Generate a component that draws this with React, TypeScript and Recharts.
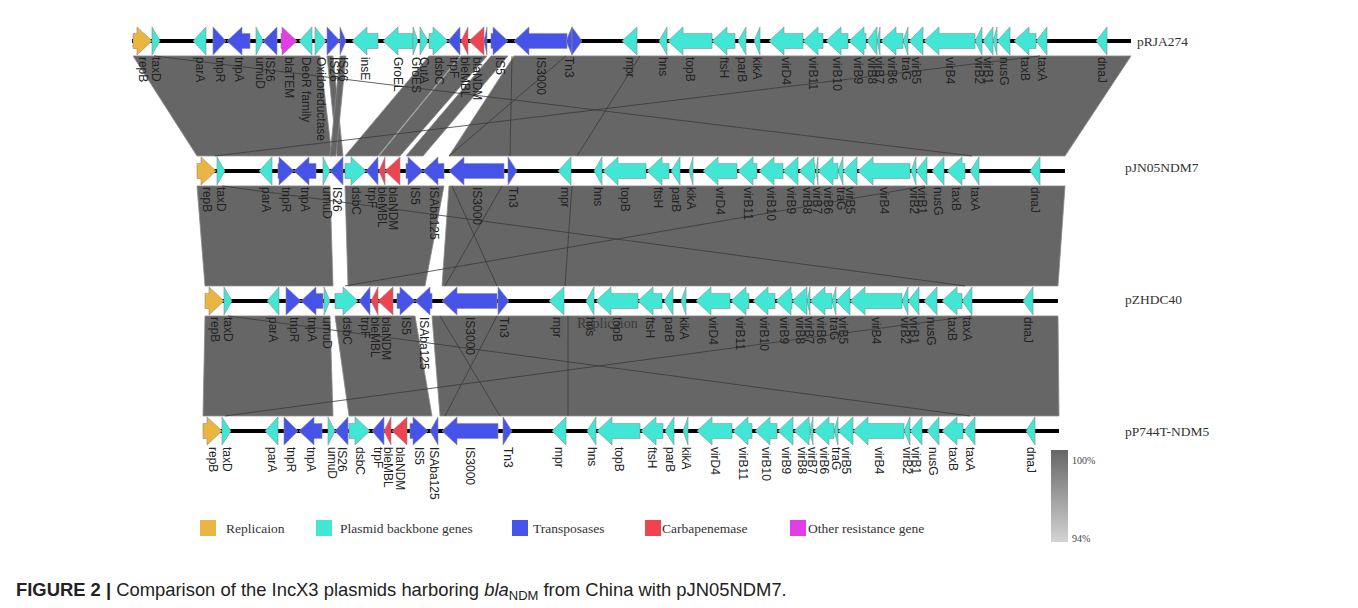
import React from "react"
import { ComposedChart, XAxis, YAxis, ReferenceArea } from "recharts"

// gene = [label, start (kb), end (kb), strand, kind]
type Gene = [string, number, number, number, string]
// link = [upper track, top start, top end, bottom start, bottom end]
type Link = [number, number, number, number, number]
// cross = [upper track, top x, bottom x]
type Cross = [number, number, number]

const trackNames = ["pRJA274", "pJN05NDM7", "pZHDC40", "pP744T-NDM5"]
const backbones: [number, number][] = [
  [6.6, 56.55],
  [9.85, 53.25],
  [10.25, 52.9],
  [10.15, 52.95],
]

const pRJA274: Gene[] = [
  ["repB", 6.65, 7.6, 1, "rep"], ["taxD", 7.6, 8.0, 1, "bb"], ["parA", 9.65, 10.3, -1, "bb"],
  ["tnpR", 10.65, 11.3, 1, "tp"], ["tnpA", 11.35, 12.5, -1, "tp"], ["umuD", 12.8, 13.15, 1, "bb"],
  ["IS26", 13.15, 13.85, -1, "tp"], ["blaTEM", 14.05, 14.85, 1, "res"], ["DeoR family", 14.95, 15.6, -1, "bb"],
  ["Oxidoreductase", 15.75, 16.3, 1, "bb"], ["IS26", 16.35, 17.0, 1, "tp"], ["IS26", 17.0, 17.3, 1, "tp"],
  ["insE", 17.6, 18.9, -1, "bb"], ["GroEL", 19.15, 20.65, -1, "bb"], ["GroES", 20.65, 20.9, 1, "bb"],
  ["CutA", 21.0, 21.4, 1, "bb"], ["dsbC", 21.45, 22.4, 1, "bb"], ["trpF", 22.4, 23.0, -1, "tp"],
  ["bleMBL", 23.05, 23.4, -1, "carb"], ["blaNDM", 23.45, 24.2, -1, "carb"], ["", 24.2, 24.35, -1, "tp"],
  ["IS5", 24.55, 25.4, 1, "tp"], ["IS3000", 25.7, 28.35, -1, "tp"], ["Tn3", 28.3, 28.6, -1, "tp"],
  ["", 28.6, 29.1, 1, "tp"], ["mpr", 31.1, 31.85, -1, "bb"], ["hns", 32.95, 33.35, -1, "bb"],
  ["topB", 33.4, 35.6, -1, "bb"], ["ftsH", 35.6, 36.75, -1, "bb"], ["parB", 36.9, 37.3, -1, "bb"],
  ["kikA", 37.7, 38.0, -1, "bb"], ["virD4", 38.45, 40.15, -1, "bb"], ["virB11", 40.15, 41.15, -1, "bb"],
  ["virB10", 41.3, 42.4, -1, "bb"], ["virB9", 42.45, 43.3, -1, "bb"], ["virB8", 43.35, 43.85, -1, "bb"],
  ["virB7", 43.85, 44.0, -1, "bb"], ["virB6", 44.05, 45.15, -1, "bb"], ["traG", 45.15, 45.4, -1, "bb"],
  ["virB5", 45.45, 46.15, -1, "bb"], ["virB4", 46.2, 48.75, -1, "bb"], ["virB2", 48.75, 49.1, -1, "bb"],
  ["virB1", 49.15, 49.65, -1, "bb"], ["", 49.65, 49.85, -1, "bb"], ["nusG", 49.85, 50.5, -1, "bb"],
  ["taxB", 50.7, 51.8, -1, "bb"], ["taxA", 51.8, 52.35, -1, "bb"], ["dnaJ", 54.8, 55.35, -1, "bb"],
]

const pJN05NDM7: Gene[] = [
  ["repB", 9.85, 10.8, 1, "rep"], ["taxD", 10.85, 11.25, 1, "bb"], ["parA", 12.95, 13.6, -1, "bb"],
  ["tnpR", 13.9, 14.7, 1, "tp"], ["tnpA", 14.7, 15.8, -1, "tp"], ["umuD", 16.15, 16.5, 1, "bb"],
  ["IS26", 16.5, 17.15, -1, "tp"], ["dsbC", 17.25, 18.3, 1, "bb"], ["trpF", 18.3, 18.9, -1, "tp"],
  ["bleMBL", 18.95, 19.25, -1, "carb"], ["blaNDM", 19.25, 20.0, -1, "carb"], ["IS5", 20.3, 21.15, 1, "tp"],
  ["ISAba125", 21.15, 22.2, -1, "tp"], ["IS3000", 22.45, 25.2, -1, "tp"], ["Tn3", 25.4, 25.85, 1, "tp"],
  ["mpr", 27.9, 28.55, -1, "bb"], ["hns", 29.7, 30.1, -1, "bb"], ["topB", 30.15, 32.3, -1, "bb"],
  ["ftsH", 32.35, 33.45, -1, "bb"], ["parB", 33.55, 34.0, -1, "bb"], ["kikA", 34.45, 34.65, -1, "bb"],
  ["virD4", 35.15, 36.85, -1, "bb"], ["virB11", 36.9, 37.85, -1, "bb"], ["virB10", 37.95, 39.15, -1, "bb"],
  ["virB9", 39.15, 39.9, -1, "bb"], ["virB8", 39.95, 40.75, -1, "bb"], ["virB7", 40.8, 40.9, -1, "bb"],
  ["virB6", 40.9, 41.9, -1, "bb"], ["traG", 41.9, 42.15, -1, "bb"], ["virB5", 42.15, 42.85, -1, "bb"],
  ["virB4", 42.9, 45.5, -1, "bb"], ["virB2", 45.55, 45.8, -1, "bb"], ["virB1", 45.8, 46.35, -1, "bb"],
  ["nusG", 46.6, 47.2, -1, "bb"], ["taxB", 47.35, 48.25, -1, "bb"], ["taxA", 48.5, 48.95, -1, "bb"],
  ["dnaJ", 51.5, 52.0, -1, "bb"],
]

const pZHDC40: Gene[] = [
  ["repB", 10.25, 11.2, 1, "rep"], ["taxD", 11.2, 11.6, 1, "bb"], ["parA", 13.35, 13.95, -1, "bb"],
  ["tnpR", 14.3, 15.05, 1, "tp"], ["tnpA", 15.05, 16.15, -1, "tp"], ["umuD", 16.2, 16.5, 1, "bb"],
  ["dsbC", 16.75, 17.9, 1, "bb"], ["trpF", 17.95, 18.5, -1, "tp"], ["bleMBL", 18.55, 18.9, -1, "carb"],
  ["blaNDM", 18.9, 19.65, -1, "carb"], ["IS5", 19.85, 20.75, 1, "tp"], ["ISAba125", 20.75, 21.6, -1, "tp"],
  ["IS3000", 22.1, 24.85, -1, "tp"], ["Tn3", 24.9, 25.45, 1, "tp"], ["mpr", 27.45, 28.2, -1, "bb"],
  ["hns", 29.3, 29.7, -1, "bb"], ["topB", 29.8, 31.9, -1, "bb"], ["ftsH", 31.9, 33.1, -1, "bb"],
  ["parB", 33.2, 33.65, -1, "bb"], ["kikA", 34.05, 34.3, -1, "bb"], ["virD4", 34.8, 36.5, -1, "bb"],
  ["virB11", 36.55, 37.45, -1, "bb"], ["virB10", 37.65, 38.75, -1, "bb"], ["virB9", 38.8, 39.6, -1, "bb"],
  ["virB8", 39.6, 40.35, -1, "bb"], ["virB7", 40.35, 40.5, -1, "bb"], ["virB6", 40.5, 41.6, -1, "bb"],
  ["traG", 41.6, 41.8, -1, "bb"], ["virB5", 41.8, 42.5, -1, "bb"], ["virB4", 42.5, 45.1, -1, "bb"],
  ["virB2", 45.1, 45.4, -1, "bb"], ["virB1", 45.4, 45.95, -1, "bb"], ["nusG", 46.2, 46.85, -1, "bb"],
  ["taxB", 47.1, 48.1, -1, "bb"], ["taxA", 48.1, 48.6, -1, "bb"], ["dnaJ", 51.15, 51.65, -1, "bb"],
]

const pP744T: Gene[] = [
  ["repB", 10.15, 11.1, 1, "rep"], ["taxD", 11.1, 11.55, 1, "bb"], ["parA", 13.25, 13.9, -1, "bb"],
  ["tnpR", 14.2, 14.9, 1, "tp"], ["tnpA", 14.95, 16.1, -1, "tp"], ["umuD", 16.4, 16.75, 1, "bb"],
  ["IS26", 16.75, 17.4, -1, "tp"], ["dsbC", 17.45, 18.5, 1, "bb"], ["trpF", 18.6, 19.2, -1, "tp"],
  ["bleMBL", 19.2, 19.55, -1, "carb"], ["blaNDM", 19.6, 20.35, -1, "carb"], ["IS5", 20.5, 21.4, 1, "tp"],
  ["ISAba125", 21.5, 21.9, -1, "tp"], ["IS3000", 22.1, 24.9, -1, "tp"], ["Tn3", 25.15, 25.6, 1, "tp"],
  ["mpr", 27.6, 28.3, -1, "bb"], ["hns", 29.35, 29.8, -1, "bb"], ["topB", 29.85, 32.0, -1, "bb"],
  ["ftsH", 32.05, 33.15, -1, "bb"], ["parB", 33.25, 33.7, -1, "bb"], ["kikA", 34.15, 34.4, -1, "bb"],
  ["virD4", 34.85, 36.6, -1, "bb"], ["virB11", 36.65, 37.6, -1, "bb"], ["virB10", 37.75, 38.85, -1, "bb"],
  ["virB9", 38.9, 39.65, -1, "bb"], ["virB8", 39.7, 40.5, -1, "bb"], ["virB7", 40.5, 40.65, -1, "bb"],
  ["virB6", 40.7, 41.7, -1, "bb"], ["traG", 41.7, 41.9, -1, "bb"], ["virB5", 41.9, 42.65, -1, "bb"],
  ["virB4", 42.65, 45.2, -1, "bb"], ["virB2", 45.2, 45.5, -1, "bb"], ["virB1", 45.5, 46.1, -1, "bb"],
  ["nusG", 46.35, 46.95, -1, "bb"], ["taxB", 47.1, 48.15, -1, "bb"], ["taxA", 48.2, 48.75, -1, "bb"],
  ["dnaJ", 51.3, 51.75, -1, "bb"],
]

const tracks = [pRJA274, pJN05NDM7, pZHDC40, pP744T]

const links: Link[] = [
  [0, 6.65, 16.0, 9.85, 16.6],
  [0, 16.35, 16.65, 16.85, 17.15],
  [0, 17.0, 17.3, 16.5, 16.8],
  [0, 21.45, 23.0, 17.25, 18.9],
  [0, 23.05, 24.35, 18.95, 20.0],
  [0, 24.55, 25.4, 20.3, 21.15],
  [0, 25.7, 56.55, 22.45, 53.25],
  [1, 9.85, 16.5, 10.25, 16.65],
  [1, 17.25, 22.2, 17.4, 21.25],
  [1, 22.45, 53.25, 22.1, 52.9],
  [2, 10.25, 16.5, 10.15, 16.65],
  [2, 16.75, 20.75, 17.45, 21.6],
  [2, 21.6, 52.9, 22.0, 52.95],
]

const crossLines: Cross[] = [
  [0, 7.7, 48.6], [0, 52.0, 10.75], [0, 25.6, 25.5], [0, 28.3, 22.45], [0, 32.0, 28.85],
  [1, 11.1, 48.25], [1, 46.25, 17.25], [1, 22.6, 24.85], [1, 25.1, 22.25], [1, 28.6, 28.25],
  [2, 11.4, 48.5], [2, 48.6, 11.25], [2, 22.0, 25.0], [2, 24.85, 22.25], [2, 28.4, 28.4],
]

const legendItems = [
  ["Replicaion", "rep"],
  ["Plasmid backbone genes", "bb"],
  ["Transposases", "tp"],
  ["Carbapenemase", "carb"],
  ["Other resistance gene", "res"],
]

const COLORS: Record<string, string> = {
  rep: "#EBB640",
  bb: "#42E6D5",
  tp: "#4653E8",
  carb: "#EE4452",
  res: "#E03FE6",
}

const PX = 130 // px per track unit on the y axis
const GENE_HALF = 14 / PX
const GAP = 15 / PX
const LINE_HALF = 2 / PX
const SANS = "'Liberation Sans', Arial, sans-serif"
const SERIF = "'Liberation Serif', 'Times New Roman', serif"

const geneShape = (g: Gene) => (p: any) => {
  const { x, y, width: w, height: h } = p
  const [name, , , strand, kind] = g
  const cy = y + h / 2
  const head = Math.min(15, w)
  const bh = h * 0.27
  let pts: number[][]
  if (strand > 0) {
    const hx = x + w - head
    pts = head >= w
      ? [[x, y], [x + w, cy], [x, y + h]]
      : [[x, cy - bh], [hx, cy - bh], [hx, y], [x + w, cy], [hx, y + h], [hx, cy + bh], [x, cy + bh]]
  } else {
    const hx = x + head
    pts = head >= w
      ? [[x + w, y], [x, cy], [x + w, y + h]]
      : [[x + w, cy - bh], [hx, cy - bh], [hx, y], [x, cy], [hx, y + h], [hx, cy + bh], [x + w, cy + bh]]
  }
  const lx = x + w / 2
  const ly = y + h + 2
  return (
    <g>
      <polygon points={pts.map((q) => q.join(",")).join(" ")} fill={COLORS[kind]} stroke="#8c8c8c" strokeWidth={0.6} />
      {name && (
        <text x={lx} y={ly} transform={`rotate(90 ${lx} ${ly})`} fontSize={12} fontFamily={SANS}
          fill="#222" dominantBaseline="central">
          {name}
        </text>
      )}
    </g>
  )
}

const linkShape = (l: Link) => (p: any) => {
  const { x, y, width, height } = p
  const lo = Math.min(l[1], l[3])
  const hi = Math.max(l[2], l[4])
  const px = (v: number) => x + ((v - lo) / (hi - lo)) * width
  const pts = [[px(l[1]), y], [px(l[2]), y], [px(l[4]), y + height], [px(l[3]), y + height]]
  return <polygon points={pts.map((q) => q.join(",")).join(" ")} fill="#666666" stroke="#8a8a8a" strokeWidth={0.8} />
}

const crossShape = (c: Cross) => (p: any) => {
  const { x, y, width, height } = p
  const lo = Math.min(c[1], c[2]) - 0.02
  const hi = Math.max(c[1], c[2]) + 0.02
  const px = (v: number) => x + ((v - lo) / (hi - lo)) * width
  return <line x1={px(c[1])} y1={y} x2={px(c[2])} y2={y + height} stroke="#3a3a3a" strokeWidth={0.8} />
}

const Overlay = () => {
  const legendX = [200, 316, 512, 645, 790]
  const legendTextX = [226, 340, 533, 662, 808]
  const nameX = [1137, 1125, 1125, 1125]
  const nameY = [41, 167, 299, 431]
  return (
    <svg width={1358} height={608} style={{ position: "absolute", left: 0, top: 0, pointerEvents: "none" }}>
      <defs>
        <linearGradient id="ident" x1="0" y1="0" x2="0" y2="1">
          <stop offset="0%" stopColor="#666666" />
          <stop offset="100%" stopColor="#d4d4d4" />
        </linearGradient>
      </defs>
      {trackNames.map((n, i) => (
        <text key={n} x={nameX[i]} y={nameY[i]} fontFamily={SERIF} fontSize={13.5} fill="#333" dominantBaseline="central">
          {n}
        </text>
      ))}
      <text x={577} y={323} fontFamily={SERIF} fontSize={14} fill="#3a3a3a" dominantBaseline="central">Replicaion</text>
      {legendItems.map(([label, kind], i) => (
        <g key={label}>
          <rect x={legendX[i]} y={520} width={16} height={16} fill={COLORS[kind]} />
          <text x={legendTextX[i]} y={528} fontFamily={SERIF} fontSize={13.5} fill="#333" dominantBaseline="central">
            {label}
          </text>
        </g>
      ))}
      <rect x={1051} y={450} width={17} height={92} fill="url(#ident)" />
      <text x={1072} y={460} fontFamily={SERIF} fontSize={10} fill="#444" dominantBaseline="central">100%</text>
      <text x={1072} y={538} fontFamily={SERIF} fontSize={10} fill="#444" dominantBaseline="central">94%</text>
      <text x={16} y={596} fontFamily={SANS} fontSize={18.4} fill="#222">
        <tspan fontWeight="bold">FIGURE 2 |</tspan>
        <tspan> Comparison of the IncX3 plasmids harboring </tspan>
        <tspan fontStyle="italic">bla</tspan>
        <tspan fontSize={13} dy={4}>NDM</tspan>
        <tspan dy={-4}> from China with pJN05NDM7.</tspan>
      </text>
    </svg>
  )
}

export default function App() {
  return (
    <div style={{ position: "absolute", left: 0, top: 0, width: 1358, height: 608, background: "#fff" }}>
      <ComposedChart width={1358} height={575} margin={{ top: 0, right: 0, bottom: 0, left: 0 }}>
        <XAxis type="number" dataKey="x" domain={[0, 67.9]} hide allowDataOverflow />
        <YAxis type="number" dataKey="y" domain={[-0.315, 4.108]} reversed hide allowDataOverflow />
        {links.map((l, i) => (
          <ReferenceArea key={`link-${i}`} x1={Math.min(l[1], l[3])} x2={Math.max(l[2], l[4])}
            y1={l[0] + GAP} y2={l[0] + 1 - GAP} ifOverflow="visible" shape={linkShape(l)} />
        ))}
        {crossLines.map((c, i) => (
          <ReferenceArea key={`cross-${i}`} x1={Math.min(c[1], c[2]) - 0.02} x2={Math.max(c[1], c[2]) + 0.02}
            y1={c[0] + GAP} y2={c[0] + 1 - GAP} ifOverflow="visible" shape={crossShape(c)} />
        ))}
        {backbones.map((b, i) => (
          <ReferenceArea key={`bb-${i}`} x1={b[0]} x2={b[1]} y1={i - LINE_HALF} y2={i + LINE_HALF}
            ifOverflow="visible" fill="#000" fillOpacity={1} stroke="none" />
        ))}
        {tracks.map((genes, t) =>
          genes.map((g, i) => (
            <ReferenceArea key={`g-${t}-${i}`} x1={g[1]} x2={g[2]} y1={t - GENE_HALF} y2={t + GENE_HALF}
              ifOverflow="visible" shape={geneShape(g)} />
          ))
        )}
      </ComposedChart>
      <Overlay />
    </div>
  )
}
